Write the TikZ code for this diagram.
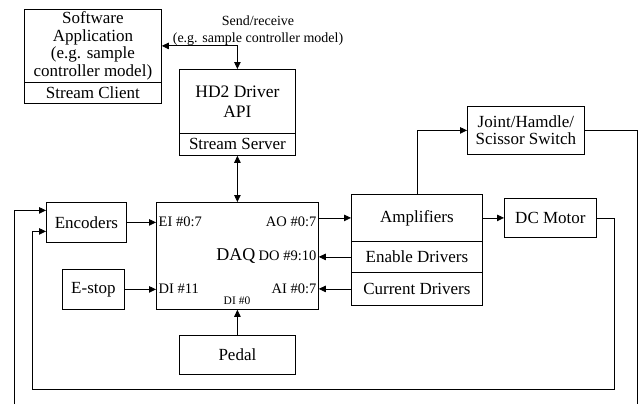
\documentclass[tikz,border=0pt]{standalone}
\usepackage{fontspec}
\setmainfont{Liberation Serif}
\usetikzlibrary{arrows.meta}

\tikzset{
  blk/.style={draw, line width=0.8pt, inner sep=0pt, anchor=north west,
              align=center, font=\fontsize{17}{17.5}\selectfont},
  port/.style={inner sep=0pt, font=\fontsize{14.5}{15}\selectfont},
  wire/.style={line width=0.8pt},
  arr/.style={wire, -{Triangle[length=7pt,width=6.5pt]}},
  darr/.style={wire, {Triangle[length=7pt,width=6.5pt]}-{Triangle[length=7pt,width=6.5pt]}}
}

\begin{document}
\begin{tikzpicture}[x=1pt, y=-1pt]
\useasboundingbox (0,0) rectangle (639,404);

% host side
\node[blk, minimum width=137pt, minimum height=73pt] (sw) at (24,9)
  {Software\\Application\\(e.g. sample\\controller model)};
\node[blk, minimum width=137pt, minimum height=21pt] (sc) at (24,82) {Stream Client};
\node[blk, minimum width=116pt, minimum height=64pt,
      font=\fontsize{17.5}{20}\selectfont] (hd) at (179,69) {HD2 Driver\\API};
\node[blk, minimum width=116pt, minimum height=22pt] (ss) at (179,133) {Stream Server};
\node[align=center, inner sep=0pt, font=\fontsize{14}{17}\selectfont] (lbl) at (258,31)
  {Send/receive\\(e.g. sample controller model)};

% acquisition board
\node[blk, minimum width=162pt, minimum height=107pt] (daq) at (156,202) {};
\node[port, anchor=west] (ei) at (158.5,222) {EI \#0:7};
\node[port, anchor=east] (ao) at (316.5,222) {AO \#0:7};
\node[inner sep=0pt, anchor=east, font=\fontsize{18}{18}\selectfont] (dq) at (255.5,256) {DAQ};
\node[port, anchor=east] (do) at (316.5,256) {DO \#9:10};
\node[port, anchor=west] (di) at (158.5,289) {DI \#11};
\node[port, anchor=east] (ai) at (316.5,289) {AI \#0:7};
\node[inner sep=0pt, font=\fontsize{11.5}{12}\selectfont] (d0) at (237,301) {DI \#0};

% inputs
\node[blk, minimum width=80pt, minimum height=40pt] (enc) at (46,202) {Encoders};
\node[blk, minimum width=62pt, minimum height=40pt] (estop) at (62,269) {E-stop};
\node[blk, minimum width=116pt, minimum height=39pt] (pedal) at (179,335) {Pedal};

% power stage
\node[blk, minimum width=131pt, minimum height=47pt] (amp) at (351,194) {Amplifiers};
\node[blk, minimum width=131pt, minimum height=31pt] (en) at (351,241) {Enable Drivers};
\node[blk, minimum width=131pt, minimum height=33pt] (cur) at (351,272) {Current Drivers};
\node[blk, minimum width=92pt, minimum height=39pt] (dc) at (504,198) {DC Motor};
\node[blk, minimum width=117pt, minimum height=48pt] (js) at (467,106) {Joint/Hamdle/\\Scissor Switch};

% loop-back corners
\coordinate (jr) at (637,404);
\coordinate (jl) at (14,404);
\coordinate (mr) at (614,389);
\coordinate (ml) at (32,389);

% connections
\draw[darr] (sw.east) -| (hd.north);
\draw[darr] (ss.south) -- (daq.north);
\draw[arr] (enc.east) -- (enc.east -| daq.west);
\draw[arr] (estop.east) -- (estop.east -| daq.west);
\draw[arr] (pedal.north) -- (daq.south);
\draw[arr] (daq.east |- amp.west) -- (amp.west);
\draw[arr] (en.west) -- (en.west -| daq.east);
\draw[arr] (cur.west) -- (cur.west -| daq.east);
\draw[arr] (amp.east) -- (amp.east -| dc.west);
\draw[arr] (amp.north) |- (js.west);
\draw[wire] (js.east) -| (jr);
\draw[arr] (jl) |- ([yshift=12pt]enc.west);
\draw[arr] (dc.east) -| (mr) -- (ml) |- ([yshift=-9pt]enc.west);
\end{tikzpicture}
\end{document}
